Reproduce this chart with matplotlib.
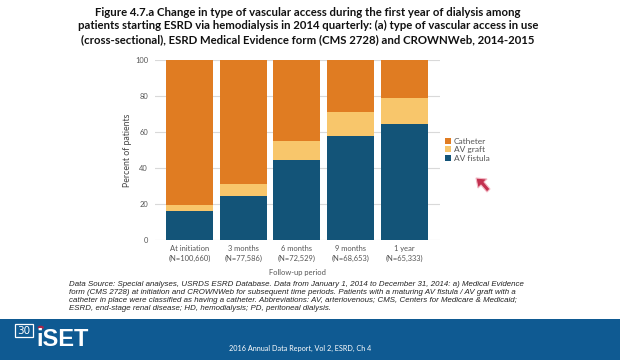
import matplotlib
matplotlib.use("Agg")
import matplotlib.pyplot as plt
from matplotlib.patches import Rectangle, Polygon, Circle

categories = ["At initiation\n(N=100,660)", "3 months\n(N=77,586)", "6 months\n(N=72,529)",
              "9 months\n(N=68,653)", "1 year\n(N=65,333)"]
av_fistula = [16.3, 24.2, 44.2, 57.5, 64.1]
av_graft = [3.1, 6.7, 10.9, 13.7, 14.8]
catheter = [100 - f - g for f, g in zip(av_fistula, av_graft)]
yticks = [0, 20, 40, 60, 80, 100]

c_cath = "#E07C22"
c_graft = "#F8C66B"
c_fist = "#135478"

fig = plt.figure(figsize=(6.2, 3.6), dpi=100)
W, H = 620, 360

def fx(x): return x / W
def fy(y): return 1 - y / H

ax = fig.add_axes([fx(155), fy(240), fx(440) - fx(155), fy(59.7) - fy(240)])
x = list(range(len(categories)))
bw = 0.875
ax.bar(x, av_fistula, bw, color=c_fist, label="AV fistula", zorder=3)
ax.bar(x, av_graft, bw, bottom=av_fistula, color=c_graft, label="AV graft", zorder=3)
bot2 = [f + g for f, g in zip(av_fistula, av_graft)]
ax.bar(x, catheter, bw, bottom=bot2, color=c_cath, label="Catheter", zorder=3)
ax.set_xlim(-0.64, 4.66)
ax.set_ylim(0, 100)
ax.set_yticks(yticks)
ax.set_yticklabels([str(v) for v in yticks], family="Lato")
ax.set_xticks(x)
ax.set_xticklabels(categories, linespacing=1.55, family="Lato")
ax.grid(axis="y", color="#d9d9d9", linewidth=0.8, zorder=0)
for s in ax.spines.values():
    s.set_visible(False)
ax.tick_params(axis="both", length=0, labelsize=5.4, labelcolor="#555555")
ax.tick_params(axis="x", pad=3.5)
ax.tick_params(axis="y", pad=5)
fig.text(fx(127), fy(150), "Percent of patients", rotation=90, ha="center", va="center",
         fontsize=6.3, color="#444444", family="Lato")
fig.text(fx(297), fy(273), "Follow-up period", ha="center", va="center",
         fontsize=5.4, color="#555555", family="Lato")

handles, labels = ax.get_legend_handles_labels()
leg = fig.legend(handles[::-1], labels[::-1], loc="upper left",
                 bbox_to_anchor=(fx(437), fy(130)), frameon=False,
                 prop={"family": "Lato", "size": 6},
                 handlelength=0.75, handleheight=0.75, handletextpad=0.35, labelspacing=0.22)
for t in leg.get_texts():
    t.set_color("#555555")

title = ("Figure 4.7.a Change in type of vascular access during the first year of dialysis among\n"
         "patients starting ESRD via hemodialysis in 2014 quarterly: (a) type of vascular access in use\n"
         "(cross-sectional), ESRD Medical Evidence form (CMS 2728) and CROWNWeb, 2014-2015")
fig.text(fx(308), fy(6.5), title, ha="center", va="top", fontsize=8.2, fontweight="bold",
         family="Lato", linespacing=1.3, color="#111111")

src = ("Data Source: Special analyses, USRDS ESRD Database. Data from January 1, 2014 to December 31, 2014: a) Medical Evidence\n"
       "form (CMS 2728) at initiation and CROWNWeb for subsequent time periods. Patients with a maturing AV fistula / AV graft with a\n"
       "catheter in place were classified as having a catheter. Abbreviations: AV, arteriovenous; CMS, Centers for Medicare & Medicaid;\n"
       "ESRD, end-stage renal disease; HD, hemodialysis; PD, peritoneal dialysis.")
fig.text(fx(69), fy(281), src, ha="left", va="top", fontsize=5.65, style="italic",
         family="Liberation Sans", linespacing=1.18, color="#222222")

fig.patches.append(Rectangle((0, 0), 1, fy(319), transform=fig.transFigure,
                             facecolor="#0F5A92", edgecolor="none", zorder=0))
fig.patches.append(Rectangle((fx(15), fy(337)), fx(33) - fx(15), fy(324) - fy(337),
                             transform=fig.transFigure, facecolor="none", edgecolor="white", lw=0.9))
fig.text(fx(24), fy(330.5), "30", ha="center", va="center", fontsize=7.5, color="white",
         family="DejaVu Sans")
fig.text(fx(36), fy(339.5), "iSET", ha="left", va="center", fontsize=17, color="white",
         fontweight="bold", family="Liberation Sans")
fig.patches.append(Circle((fx(40.8), fy(327.5)), 0.005, transform=fig.transFigure,
                          facecolor="#A8254A", edgecolor="none"))
fig.text(fx(300), fy(348), "2016 Annual Data Report, Vol 2, ESRD, Ch 4", ha="center",
         va="center", fontsize=5.2, color="white", family="Lato")

cur = Polygon([[fx(476), fy(178)], [fx(487), fy(179)], [fx(484), fy(182)], [fx(490), fy(189)],
               [fx(487), fy(192)], [fx(481), fy(185)], [fx(478), fy(188)]],
              closed=True, transform=fig.transFigure, facecolor="#C2304F", edgecolor="#F2B8C4", lw=0.8)
fig.patches.append(cur)

fig.savefig("out.png", dpi=100)
